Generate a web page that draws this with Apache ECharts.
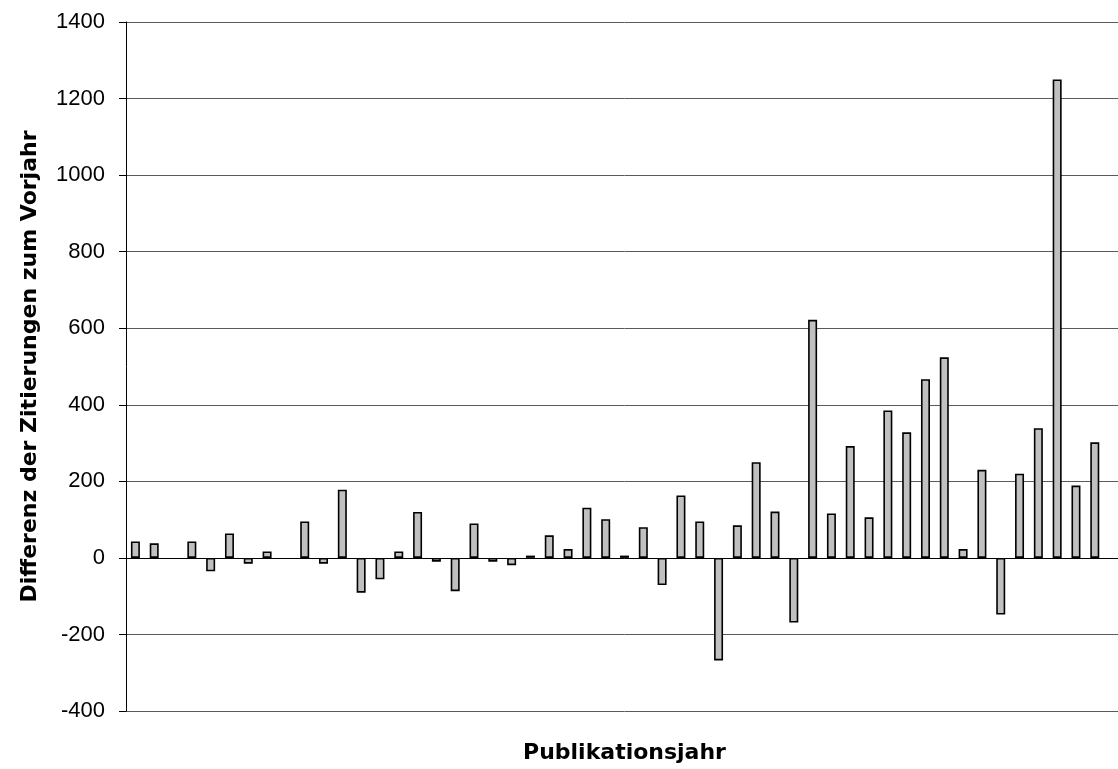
<!DOCTYPE html>
<html>
<head>
<meta charset="utf-8">
<script src="https://cdn.jsdelivr.net/npm/echarts@6/dist/echarts.min.js"></script>
<style>
  html, body { margin: 0; padding: 0; background: #fff; overflow: hidden; }
  /* plot area runs slightly past the right edge of the window */
  #chart { width: 1130px; height: 769px; }
</style>
</head>
<body>
<div id="chart"></div>
<script>
// Publication-year slots (year labels are not printed on the axis)
const categories = Array.from({ length: 53 }, (_, i) => String(i + 1));

// Change in citations compared with the previous year
const differenz = [
  43, 38, null, 43, -35, 64, -15, 17, null, 95,
  -15, 178, -91, -56, 17, 120, -10, -87, 90, -10,
  -19, 6, 59, 23, 131, 101, 6, 80, -71, 163,
  95, -268, 85, 250, 121, -169, 622, 116, 292, 106,
  385, 328, 467, 524, 23, 230, -148, 220, 339, 1250,
  189, 302, null
];

const yTicks = { min: -400, max: 1400, interval: 200 };

const xTitle = 'Publikationsjahr';
const yTitle = 'Differenz der Zitierungen zum Vorjahr';

const chart = echarts.init(document.getElementById('chart'), null, { renderer: 'canvas' });

chart.setOption({
  animation: false,
  backgroundColor: '#ffffff',
  grid: { left: 126, top: 22, width: 997, height: 690, containLabel: false },
  xAxis: {
    type: 'category',
    data: categories,
    boundaryGap: true,
    name: xTitle,
    nameLocation: 'middle',
    nameGap: 31,
    nameTextStyle: {
      fontFamily: 'DejaVu Sans',
      fontWeight: 'bold',
      fontSize: 22,
      color: '#000'
    },
    axisLine: { onZero: true, lineStyle: { color: '#000', width: 1 } },
    axisTick: { show: false },
    axisLabel: { show: false },
    splitLine: { show: false }
  },
  yAxis: {
    type: 'value',
    min: yTicks.min,
    max: yTicks.max,
    interval: yTicks.interval,
    name: yTitle,
    nameLocation: 'middle',
    nameRotate: 90,
    nameGap: 85,
    nameTextStyle: {
      fontFamily: 'DejaVu Sans',
      fontWeight: 'bold',
      fontSize: 22,
      color: '#000'
    },
    axisLine: { show: true, lineStyle: { color: '#000', width: 1 } },
    axisTick: { show: true, inside: false, length: 7, lineStyle: { color: '#000' } },
    axisLabel: {
      margin: 21,
      fontFamily: 'Arial, "Liberation Sans", sans-serif',
      fontSize: 22,
      color: '#000',
      formatter: v => String(v)
    },
    splitLine: { show: true, lineStyle: { color: '#5a5a5a', width: 1 } }
  },
  series: [{
    type: 'bar',
    data: differenz,
    barWidth: 9,
    itemStyle: {
      color: '#c0c0c0',
      borderColor: '#000',
      borderWidth: 1.6
    },
    emphasis: { disabled: true }
  }]
});
</script>
</body>
</html>
